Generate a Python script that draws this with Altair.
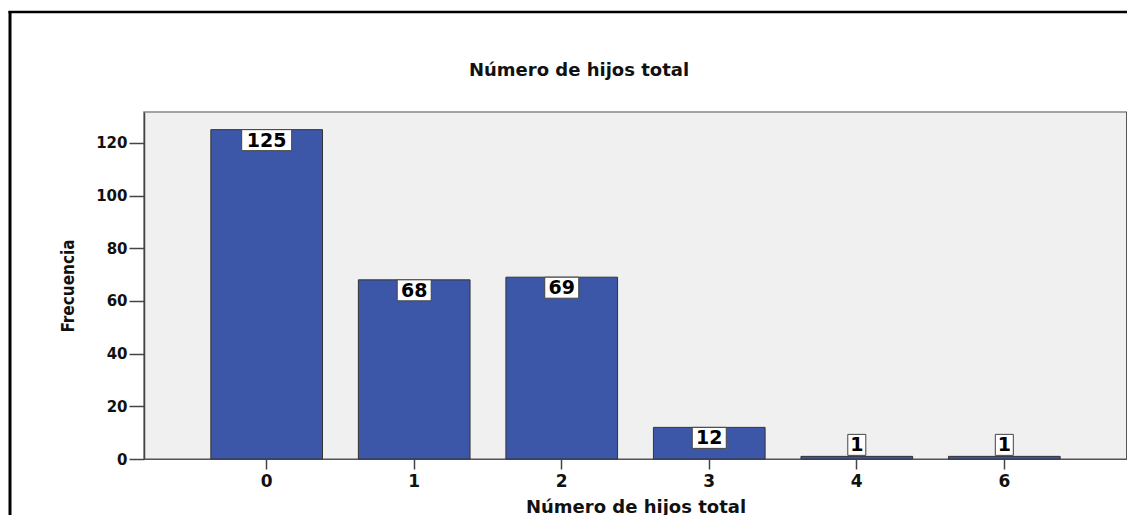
import altair as alt
import pandas as pd

categories = ["0", "1", "2", "3", "4", "6"]
counts = [125, 68, 69, 12, 1, 1]
y_ticks = [0, 20, 40, 60, 80, 100, 120]
chart_title = "Número de hijos total"

df = pd.DataFrame({"hijos": categories, "count": counts})

W, H = 983, 347
BAR_BLUE = "#3D57A8"

base = alt.Chart(df).transform_calculate(
    nd="length(toString(datum.count))",
    inside="datum.count >= 10",
)

x_enc = alt.X(
    "hijos:N",
    sort=categories,
    scale=alt.Scale(paddingInner=0.243, paddingOuter=0.453),
    axis=alt.Axis(
        title="Número de hijos total",
        labelAngle=0,
        labelFont="DejaVu Sans",
        labelFontWeight="bold",
        labelFontSize=17,
        labelColor="#111",
        labelPadding=4,
        tickSize=10,
        tickColor="#444",
        tickWidth=1.5,
        domainColor="#555",
        domainWidth=1,
        titleFont="DejaVu Sans",
        titleFontWeight="bold",
        titleFontSize=18,
        titleColor="#111",
        titleBaseline="alphabetic",
        titleY=53,
    ),
)

y_scale = alt.Scale(domain=[0, 131.7], nice=False)

bars = base.mark_bar(color=BAR_BLUE, stroke="#333", strokeWidth=1).encode(
    x=x_enc,
    y=alt.Y(
        "count:Q",
        scale=y_scale,
        axis=alt.Axis(
            title="Frecuencia",
            values=y_ticks,
            grid=False,
            labelFont="DejaVu Sans",
            labelFontWeight="bold",
            labelFontSize=15,
            labelColor="#111",
            labelPadding=2,
            tickSize=15,
            tickColor="#444",
            tickWidth=1.5,
            domainColor="#444",
            domainWidth=1.5,
            titleFont="DejaVu Sans Condensed",
            titleFontWeight="bold",
            titleFontSize=17,
            titleColor="#111",
            titleAngle=270,
            titleAlign="center",
            titleBaseline="middle",
            titleX=-76,
            titleY=173.5,
        ),
    ),
)

layers = [bars]
for nd, bw in [(3, 50), (2, 34), (1, 18)]:
    for inside, yo, y2o in [(True, 0, 21), (False, -22, -1)]:
        cond = f"datum.nd == {nd} && datum.inside == {str(inside).lower()}"
        layers.append(
            base.transform_filter(cond)
            .mark_bar(
                width=bw,
                fill="white",
                stroke="#444",
                strokeWidth=1,
                yOffset=yo,
                y2Offset=y2o,
            )
            .encode(
                x=alt.X("hijos:N", sort=categories),
                y=alt.Y("count:Q", scale=y_scale),
                y2=alt.Y2("count:Q"),
            )
        )

for inside, dy in [(True, 11), (False, -11)]:
    layers.append(
        base.transform_filter(f"datum.inside == {str(inside).lower()}")
        .mark_text(
            font="DejaVu Sans",
            fontWeight="bold",
            fontSize=19,
            color="black",
            baseline="middle",
            align="center",
            dy=dy,
        )
        .encode(
            x=alt.X("hijos:N", sort=categories),
            y=alt.Y("count:Q", scale=y_scale),
            text="count:Q",
        )
    )

one = alt.Chart(pd.DataFrame({"t": [chart_title]}))
frame_left = one.mark_rule(color="black", strokeWidth=3).encode(
    x=alt.value(-134), y=alt.value(-101), y2=alt.value(420)
)
frame_top = one.mark_rule(color="black", strokeWidth=2.5).encode(
    x=alt.value(-135.5), x2=alt.value(1000), y=alt.value(-100)
)
right_edge = one.mark_rule(color="#555", strokeWidth=2).encode(
    x=alt.value(W), y=alt.value(0), y2=alt.value(H)
)
title_text = one.mark_text(
    font="DejaVu Sans",
    fontWeight="bold",
    fontSize=18,
    color="#111",
    align="center",
    baseline="alphabetic",
).encode(x=alt.value(435), y=alt.value(-36), text="t:N")
layers += [frame_left, frame_top, right_edge, title_text]

chart = (
    alt.layer(*layers)
    .properties(
        width=W,
        height=H,
        autosize=alt.AutoSizeParams(type="none"),
        padding={"left": 136, "top": 104, "right": 0, "bottom": 56},
        background="white",
    )
    .configure_view(fill="#F0F0F0", stroke="#888", strokeWidth=1.5)
)

chart.save("out.html", embed_options={"renderer": "svg", "actions": False})
